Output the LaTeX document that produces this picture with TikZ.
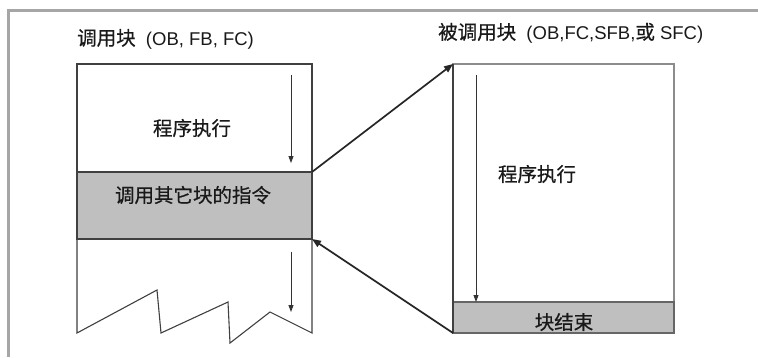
\documentclass[tikz,border=0pt]{standalone}
\usepackage{fontspec}
\setmainfont{Liberation Sans}
\newfontfamily\cjk[FakeBold=0.5]{Noto Sans CJK SC}
\newcommand\zh[1]{{\fontsize{19.5}{23}\selectfont\cjk #1}}
\usetikzlibrary{arrows.meta}
\begin{document}
\begin{tikzpicture}[x=1pt,y=-1pt,
  frame/.style={draw=black!35, line width=3pt},
  blk/.style={draw=black!75, line width=1.3pt, inner sep=0pt, outer sep=0pt},
  band/.style={blk, fill=black!25},
  txt/.style={font=\fontsize{18.5}{22}\selectfont, inner sep=0pt, text=black!90},
  flow/.style={-{Triangle[length=7pt,width=5pt]}, line width=0.9pt, draw=black!80, fill=black!80},
  link/.style={-{Triangle[length=9pt,width=7pt]}, line width=1.7pt, draw=black!85, fill=black!85}]
\useasboundingbox (0,0) rectangle (758,357);
\fill[white] (0,0) rectangle (758,357);
\draw[frame] (8,357) -- (8,10) -- (758,10);

% titles
\node[txt, anchor=west] (h1) at (77,39) {\zh{调用块}\ \ (OB, FB, FC)};
\node[txt, anchor=west] (h2) at (438,33) {\zh{被调用块}\ \ (OB,FC,SFB,\zh{或} SFC)};

% calling block
\node[blk, minimum width=235pt, minimum height=108pt] (upper) at (194.5,118) {};
\node[band, minimum width=235pt, minimum height=67pt] (call) at (194.5,205.5) {};
\node[txt] (t1) at (192,128) {\zh{程序执行}};
\node[txt] (t2) at (193,195) {\zh{调用其它块的指令}};
\draw[blk, line width=1.1pt] (call.south west) -- (77,333) -- (157,290) -- (161,333) -- (228,302)
  -- (230,343) -- (270,312) -- (312,333) -- (call.south east);
\coordinate (a1s) at (291,75);
\coordinate (a1e) at (291,163);
\coordinate (a2s) at (291,252);
\coordinate (a2e) at (291,312);
\draw[flow] (a1s) -- (a1e);
\draw[flow] (a2s) -- (a2e);

% called block
\node[blk, draw=black!45, minimum width=221pt, minimum height=269pt] (callee) at (563.5,198.5) {};
\node[band, draw=black!60, minimum width=221pt, minimum height=31pt] (end) at (563.5,317.5) {};
\draw[blk] (callee.north west) -- (callee.south west);
\node[txt] (t3) at (537,174) {\zh{程序执行}};
\node[txt] (t4) at (564,322) {\zh{块结束}};
\coordinate (a3s) at (476,75);
\coordinate (a3e) at (end.north -| a3s);
\draw[flow] (a3s) -- (a3e);

% links
\draw[link] (call.north east) -- (callee.north west);
\draw[link] (callee.south west) -- (call.south east);
\end{tikzpicture}
\end{document}
